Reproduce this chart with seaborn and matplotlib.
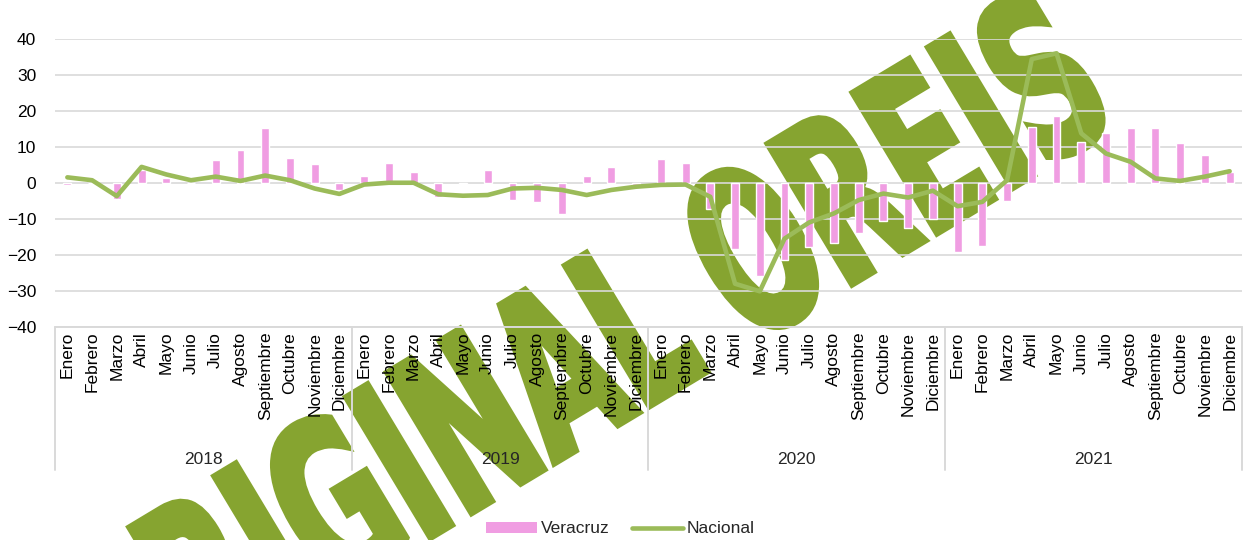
import matplotlib
matplotlib.use("Agg")
import matplotlib.pyplot as plt
import matplotlib.font_manager as fm
import seaborn as sns
import pandas as pd
from matplotlib.lines import Line2D
from matplotlib.patches import Patch, PathPatch
from matplotlib.textpath import TextPath
from matplotlib.transforms import Affine2D, IdentityTransform, blended_transform_factory

# --- data (monthly % change) ---
months = ["Enero", "Febrero", "Marzo", "Abril", "Mayo", "Junio", "Julio",
          "Agosto", "Septiembre", "Octubre", "Noviembre", "Diciembre"]
years = ["2018", "2019", "2020", "2021"]

veracruz = [
    -0.5, 0.0, -4.5, 3.5, 1.2, 0.0, 6.3, 9.0, 15.2, 6.9, 5.1, -2.0,
    1.9, 5.6, 2.9, -3.9, -0.3, 3.5, -4.9, -5.2, -8.6, 1.9, 4.4, -0.5,
    6.7, 5.5, -7.4, -18.3, -25.9, -21.5, -17.8, -16.6, -13.9, -10.6, -12.5, -10.1,
    -19.1, -17.6, -5.1, 15.5, 18.6, 11.2, 13.8, 15.1, 15.2, 11.1, 7.7, 3.0,
]
nacional = [
    1.5, 0.7, -3.7, 4.4, 2.3, 0.7, 1.7, 0.5, 2.0, 0.7, -1.6, -3.1,
    -0.5, 0.0, 0.0, -3.2, -3.6, -3.4, -1.6, -1.4, -2.0, -3.4, -2.0, -1.1,
    -0.6, -0.5, -3.9, -28.0, -30.1, -15.5, -11.0, -8.5, -4.8, -3.0, -4.1, -2.2,
    -6.5, -5.3, 0.7, 34.3, 35.9, 13.7, 8.1, 5.8, 1.2, 0.5, 1.7, 3.2,
]

PINK = "#F09DE2"
GREEN = "#9BBB59"
WATERMARK = "#86A430"
GRID = "#D9D9D9"

df = pd.DataFrame({
    "idx": range(len(veracruz)),
    "mes": months * len(years),
    "Veracruz": veracruz,
    "Nacional": nacional,
})

sns.set_style("white")
names = {f.name for f in fm.fontManager.ttflist}
if "Liberation Sans Narrow" in names:
    FONT, FS = "Liberation Sans Narrow", 15
else:
    FONT, FS = "Liberation Sans", 12.5
plt.rcParams["font.family"] = [FONT, "DejaVu Sans"]

fig = plt.figure(figsize=(12.46, 5.40), dpi=100)
fig.patch.set_facecolor("white")

# watermark text, behind everything
tp = TextPath((0, 0), "ORIGINAL OREIS", size=224,
              prop=fm.FontProperties(family="DejaVu Sans", weight="bold"))
wm_path = Affine2D().scale(0.575, 1).rotate_deg(31).translate(110, -190).transform_path(tp)
fig.add_artist(PathPatch(wm_path, facecolor=WATERMARK, edgecolor=WATERMARK, lw=5,
                         joinstyle="miter", transform=IdentityTransform(), zorder=-1))

ax = fig.add_axes([0.04414, 0.39444, 0.95265, 0.53426])
ax.patch.set_alpha(0)

sns.barplot(data=df, x="idx", y="Veracruz", ax=ax, color=PINK, width=0.32,
            saturation=1, zorder=2)
sns.lineplot(data=df, x="idx", y="Nacional", ax=ax, color=GREEN, linewidth=3.3,
             zorder=3, legend=False)

ax.set_xlim(-0.5, len(veracruz) - 0.5)
ax.set_ylim(-40, 40)
ax.set_yticks(range(-40, 41, 10))
ax.yaxis.grid(True, color=GRID, lw=1.2)
ax.xaxis.grid(False)
ax.set_axisbelow(True)
for s in ax.spines.values():
    s.set_visible(False)
ax.axhline(-40, color=GRID, lw=1.4, clip_on=False, zorder=1)

ax.set_xticks(df["idx"])
ax.set_xticklabels(df["mes"], rotation=90)
ax.tick_params(axis="x", length=0, pad=3.5, labelsize=FS, colors="black")
ax.tick_params(axis="y", length=0, pad=13.5, labelsize=FS, colors="black")
ax.set_xlabel("")
ax.set_ylabel("")

# year grouping under the month labels
trans = blended_transform_factory(ax.transData, ax.transAxes)
for k in range(len(years) + 1):
    xb = 12 * k - 0.5
    ax.plot([xb, xb], [0, -0.496], transform=trans, color=GRID, lw=1.4, clip_on=False)
for k, yr in enumerate(years):
    ax.text(12 * k + 5.5, -0.46, yr, transform=trans, ha="center", va="center",
            fontsize=FS)

handles = [Patch(facecolor=PINK, edgecolor="none"),
           Line2D([0], [0], color=GREEN, lw=3.3)]
fig.legend(handles, ["Veracruz", "Nacional"], loc="center",
           bbox_to_anchor=(0.498, 0.0204), ncol=2, frameon=False, fontsize=FS,
           handlelength=2.9, handleheight=0.66, handletextpad=0.25,
           columnspacing=1.3)

fig.savefig("out.png", dpi=100, facecolor="white")
